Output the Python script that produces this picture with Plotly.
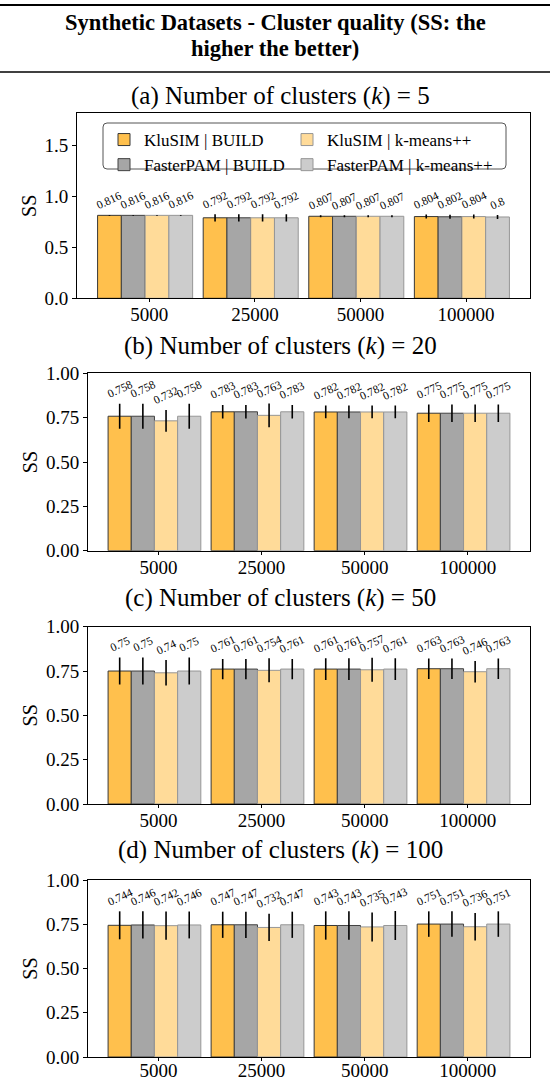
import plotly.graph_objects as go

categories = ["5000", "25000", "50000", "100000"]
series_names = ["KluSIM | BUILD", "FasterPAM | BUILD", "KluSIM | k-means++", "FasterPAM | k-means++"]
title_lines = ["Synthetic Datasets - Cluster quality (SS: the", "higher the better)"]
panel_titles = [
    "(a) Number of clusters (<i>k</i>) = 5",
    "(b) Number of clusters (<i>k</i>) = 20",
    "(c) Number of clusters (<i>k</i>) = 50",
    "(d) Number of clusters (<i>k</i>) = 100",
]

# values[panel][series][category]
k5_values = [
    [0.816, 0.792, 0.807, 0.804],
    [0.816, 0.792, 0.807, 0.802],
    [0.816, 0.792, 0.807, 0.804],
    [0.816, 0.792, 0.807, 0.800],
]
k5_errors = [
    [0.003, 0.036, 0.010, 0.020],
    [0.003, 0.036, 0.010, 0.020],
    [0.003, 0.036, 0.010, 0.020],
    [0.003, 0.036, 0.010, 0.020],
]
k20_values = [
    [0.758, 0.783, 0.782, 0.775],
    [0.758, 0.783, 0.782, 0.775],
    [0.732, 0.763, 0.782, 0.775],
    [0.758, 0.783, 0.782, 0.775],
]
k20_errors = [
    [0.071, 0.038, 0.036, 0.049],
    [0.071, 0.038, 0.036, 0.049],
    [0.061, 0.067, 0.036, 0.049],
    [0.071, 0.038, 0.036, 0.049],
]
k50_values = [
    [0.750, 0.761, 0.761, 0.763],
    [0.750, 0.761, 0.761, 0.763],
    [0.740, 0.754, 0.757, 0.746],
    [0.750, 0.761, 0.761, 0.763],
]
k50_errors = [
    [0.076, 0.057, 0.061, 0.058],
    [0.076, 0.057, 0.061, 0.058],
    [0.072, 0.068, 0.068, 0.061],
    [0.076, 0.057, 0.061, 0.058],
]
k100_values = [
    [0.744, 0.747, 0.743, 0.751],
    [0.746, 0.747, 0.743, 0.751],
    [0.742, 0.732, 0.735, 0.736],
    [0.746, 0.747, 0.743, 0.751],
]
k100_errors = [
    [0.079, 0.074, 0.080, 0.072],
    [0.077, 0.074, 0.080, 0.072],
    [0.080, 0.077, 0.082, 0.078],
    [0.076, 0.074, 0.082, 0.072],
]
label_texts = {
    0: [["0.816", "0.792", "0.807", "0.804"], ["0.816", "0.792", "0.807", "0.802"],
        ["0.816", "0.792", "0.807", "0.804"], ["0.816", "0.792", "0.807", "0.8"]],
    1: [["0.758", "0.783", "0.782", "0.775"], ["0.758", "0.783", "0.782", "0.775"],
        ["0.732", "0.763", "0.782", "0.775"], ["0.758", "0.783", "0.782", "0.775"]],
    2: [["0.75", "0.761", "0.761", "0.763"], ["0.75", "0.761", "0.761", "0.763"],
        ["0.74", "0.754", "0.757", "0.746"], ["0.75", "0.761", "0.761", "0.763"]],
    3: [["0.744", "0.747", "0.743", "0.751"], ["0.746", "0.747", "0.743", "0.751"],
        ["0.742", "0.732", "0.735", "0.736"], ["0.746", "0.747", "0.743", "0.751"]],
}

panels_values = [k5_values, k20_values, k50_values, k100_values]
panels_errors = [k5_errors, k20_errors, k50_errors, k100_errors]

# styles
fills = ["rgb(255,192,77)", "rgb(166,166,166)", "rgb(255,219,153)", "rgb(204,204,204)"]
edges = ["rgb(55,55,55)", "rgb(65,65,65)", "rgb(150,150,150)", "rgb(150,150,150)"]
legend_ids = ["legend", "legend", "legend2", "legend2"]
FONT = "Liberation Serif, Times New Roman, serif"
W, H = 550, 1082
BAR_W = 0.225
GROUP_START = -0.49

# layout geometry in px (top, bottom) and left edges
panel_px = [(113.3, 298.3), (373.3, 550.7), (626.7, 804.0), (880.0, 1057.0)]
left_px = [77, 88, 88, 88]
right_px = 530
title_px = [96, 346, 598, 850]
xlabel_standoff = [-4, -4, -4, -7]
y_ranges = [[0, 1.82], [0, 1.0], [0, 1.0], [0, 1.0]]
y_ticks = [[0.0, 0.5, 1.0, 1.5], [0, 0.25, 0.5, 0.75, 1.0], [0, 0.25, 0.5, 0.75, 1.0], [0, 0.25, 0.5, 0.75, 1.0]]
y_ticktext = [["0.0", "0.5", "1.0", "1.5"]] + [["0.00", "0.25", "0.50", "0.75", "1.00"]] * 3

fig = go.Figure()
xpos = list(range(len(categories)))
annotations = []

for p in range(4):
    xa = "x" if p == 0 else f"x{p+1}"
    ya = "y" if p == 0 else f"y{p+1}"
    for s in range(4):
        off = GROUP_START + s * BAR_W
        fig.add_trace(go.Bar(
            x=xpos, y=panels_values[p][s],
            width=BAR_W, offset=off,
            marker=dict(color=fills[s], line=dict(color=edges[s], width=1)),
            error_y=dict(type="data", array=panels_errors[p][s], visible=True,
                         color="black", thickness=1.6, width=0),
            name=series_names[s], legendgroup=series_names[s], legend=legend_ids[s],
            showlegend=(p == 0),
            xaxis=xa, yaxis=ya, hoverinfo="skip",
        ))
        for c in range(4):
            annotations.append(dict(
                x=xpos[c] + off + BAR_W / 2,
                y=panels_values[p][s][c] + panels_errors[p][s][c],
                xref=xa, yref=ya, text=label_texts[p][s][c], showarrow=False,
                textangle=-25, xanchor="center", yanchor="bottom", yshift=1,
                font=dict(family=FONT, size=11.5, color="black"),
            ))
    annotations.append(dict(
        x=0.51, y=1 - title_px[p] / H, xref="paper", yref="paper",
        text=panel_titles[p], showarrow=False, xanchor="center", yanchor="middle",
        font=dict(family=FONT, size=25, color="black"),
    ))

for i, (line, ypx) in enumerate(zip(title_lines, [22, 48])):
    annotations.append(dict(
        x=0.5, y=1 - ypx / H, xref="paper", yref="paper",
        text=f"<b>{line}</b>", showarrow=False, xanchor="center", yanchor="middle",
        font=dict(family=FONT, size=22.5, color="black"),
    ))

# legend frame (rounded rectangle) in paper coords
lx0, lx1, ly0, ly1, r = 103, 506, 123, 169, 4
def px(xv): return xv / W
def py(yv): return 1 - yv / H
frame_path = (
    f"M{px(lx0 + r)},{py(ly0)} L{px(lx1 - r)},{py(ly0)} Q{px(lx1)},{py(ly0)} {px(lx1)},{py(ly0 + r)} "
    f"L{px(lx1)},{py(ly1 - r)} Q{px(lx1)},{py(ly1)} {px(lx1 - r)},{py(ly1)} "
    f"L{px(lx0 + r)},{py(ly1)} Q{px(lx0)},{py(ly1)} {px(lx0)},{py(ly1 - r)} "
    f"L{px(lx0)},{py(ly0 + r)} Q{px(lx0)},{py(ly0)} {px(lx0 + r)},{py(ly0)} Z"
)

legend_common = dict(orientation="v", xanchor="left", yanchor="top", bgcolor="rgba(0,0,0,0)",
                     borderwidth=0, tracegroupgap=0, itemwidth=30,
                     font=dict(family=FONT, size=17, color="black"))

layout = dict(
    width=W, height=H, margin=dict(l=0, r=0, t=0, b=0, autoexpand=False),
    paper_bgcolor="white", plot_bgcolor="white",
    barmode="overlay",
    font=dict(family=FONT, color="black"),
    legend=dict(x=104 / W, y=1 - 122 / H, **legend_common),
    legend2=dict(x=287 / W, y=1 - 122 / H, **legend_common),
    annotations=annotations,
    shapes=[
        dict(type="line", xref="paper", yref="paper", x0=0, x1=1, y0=py(5), y1=py(5),
             line=dict(color="black", width=2)),
        dict(type="line", xref="paper", yref="paper", x0=0, x1=1, y0=py(72), y1=py(72),
             line=dict(color="black", width=1.5)),
        dict(type="path", xref="paper", yref="paper", path=frame_path, layer="above",
             fillcolor="rgba(255,255,255,0.8)", line=dict(color="#555", width=1)),
    ],
)
for p in range(4):
    xk = "xaxis" if p == 0 else f"xaxis{p+1}"
    yk = "yaxis" if p == 0 else f"yaxis{p+1}"
    top, bot = panel_px[p]
    ya = "y" if p == 0 else f"y{p+1}"
    xa = "x" if p == 0 else f"x{p+1}"
    layout[xk] = dict(domain=[left_px[p] / W, right_px / W], anchor=ya, automargin=False,
                      range=[-0.685, 3.605], tickvals=xpos, ticktext=categories,
                      showline=True, mirror=True, linecolor="black", linewidth=1,
                      ticks="outside", ticklen=3, tickcolor="black", showgrid=False,
                      ticklabelstandoff=xlabel_standoff[p],
                      zeroline=False, tickfont=dict(family=FONT, size=19, color="black"))
    layout[yk] = dict(domain=[1 - bot / H, 1 - top / H], anchor=xa, automargin=False,
                      range=y_ranges[p], tickvals=y_ticks[p], ticktext=y_ticktext[p],
                      showline=True, mirror=True, linecolor="black", linewidth=1,
                      ticks="outside", ticklen=4, tickcolor="black", showgrid=False,
                      zeroline=False, tickfont=dict(family=FONT, size=19, color="black"),
                      title=dict(text="SS", standoff=2, font=dict(family=FONT, size=20, color="black")))

fig.update_layout(**layout)
fig.write_html("out.html", post_script="document.body.style.margin='0px';",
               config={"displayModeBar": False})
